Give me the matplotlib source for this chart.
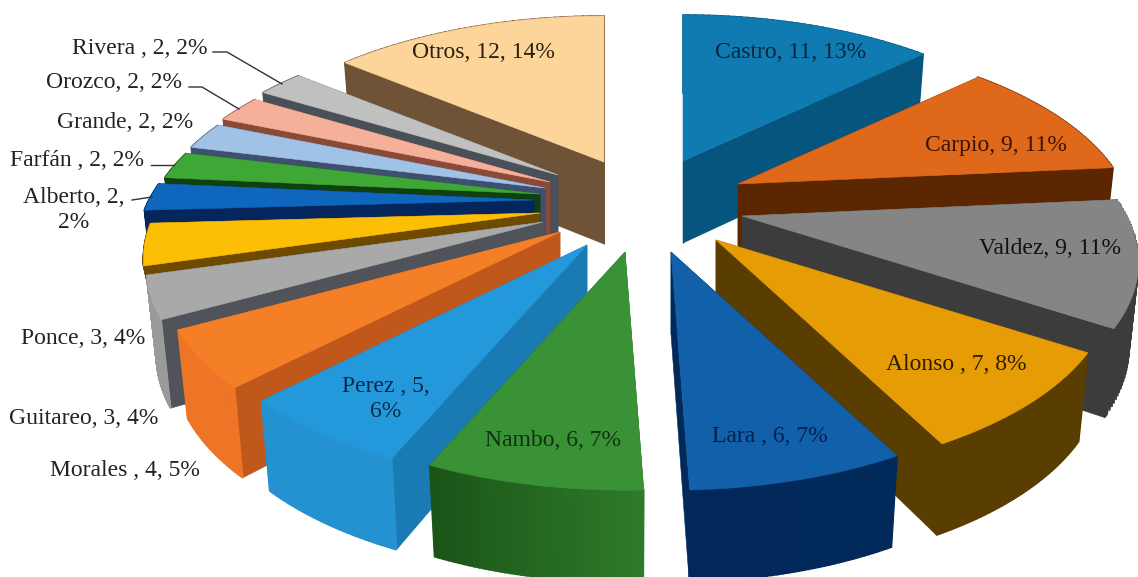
"""Exploded 3D pie of surnames, drawn as projected slices on a pixel-sized axes."""
import matplotlib
matplotlib.use("Agg")
import matplotlib.pyplot as plt
import numpy as np

names = ["Castro", "Carpio", "Valdez", "Alonso ", "Lara ", "Nambo", "Perez ", "Morales ",
         "Guitareo", "Ponce", "Alberto", "Farfán ", "Grande", "Orozco", "Rivera ", "Otros"]
values = [11, 9, 9, 7, 6, 6, 5, 4, 3, 3, 2, 2, 2, 2, 2, 12]
percents = [13, 11, 11, 8, 7, 7, 6, 5, 4, 4, 2, 2, 2, 2, 2, 14]

# layout of each slice: where its tip lands after the explosion
tip_x = [683, 738, 742, 716, 671, 625, 587, 560, 543, 540, 534, 540, 545, 550, 558, 604]
tip_y = [161, 184, 216, 240, 252, 252, 245, 232, 222, 213, 200, 194, 188, 182, 175, 162]
wall_scale = [1, 1, 1, 1, 1, 1, 1, 1, 1, 0.5, 1, 1, 1, 1, 1, 1]

top_colors = ["#0f7bb0", "#e0681a", "#858585", "#e69c05", "#1260aa", "#3a9236", "#2398da", "#f57f27",
              "#a9a9a9", "#fdbf05", "#0f66bd", "#3fa736", "#a0c2e6", "#f6b09a", "#c0c0c0", "#fdd59a"]
side_colors = ["#05557f", "#5c2600", "#3c3c3c", "#5a3d00", "#012a5a", "#1f6420", "#1a7ab3", "#c0581c",
               "#50545a", "#6d4a00", "#04265c", "#10400f", "#3f4f70", "#8a4a38", "#4a5058", "#6f5337"]
arc_left = ["#05557f", "#5c2600", "#3c3c3c", "#5a3d00", "#02285a", "#1b5418", "#2491d0", "#ee7426",
            "#9a9a9a", "#6d4a00", "#04265c", "#10400f", "#3f4f70", "#8a4a38", "#4a5058", "#6f5337"]
arc_right = ["#05557f", "#5c2600", "#3c3c3c", "#5a3d00", "#012a5a", "#2d7a2a", "#2491d0", "#ee7426",
             "#9a9a9a", "#6d4a00", "#04265c", "#10400f", "#3f4f70", "#8a4a38", "#4a5058", "#6f5337"]

label_x = [791, 996, 1050, 956, 770, 553, 386, 125, 84, 83, 74, 77, 125, 114, 140, 483]
label_y = [52, 145, 248, 364, 436, 440, 399, 470, 418, 339, 210, 161, 122, 83, 49, 53]
label_colors = ["#07273f", "#3a1400", "#111111", "#2e1b00", "#04204a", "#10300f", "#0b2a4a", "#222222",
                "#222222", "#222222", "#222222", "#222222", "#222222", "#222222", "#222222", "#2a2010"]
wrapped = ["Perez ", "Alberto"]

leaders = [([213, 227, 282], [52, 52, 84]),
           ([189, 202, 239], [87, 87, 109]),
           ([151, 174], [165, 165]),
           ([132, 152], [200, 197])]

RX, RY = 385.0, 181.0
PERSP = 0.24
WALL_TAPER = 0.975


def project(theta):
    """Offset from the slice tip for a rim angle (clockwise from the top)."""
    s = 1.0 / (1.0 + PERSP * np.cos(theta))
    return RX * np.sin(theta) * s, -RY * np.cos(theta) * s


def wall_depth(theta):
    return 85.0 - 7.0 * np.cos(theta)


def mix(c1, c2, f):
    a = np.array(matplotlib.colors.to_rgb(c1))
    b = np.array(matplotlib.colors.to_rgb(c2))
    return a + (b - a) * f


def draw_slice(ax, i, start, stop):
    tx, ty = tip_x[i], tip_y[i]
    theta = np.linspace(start, stop, 40)
    dx, dy = project(theta)
    rim_x, rim_y = tx + dx, ty + dy
    low_x, low_y = tx + dx * WALL_TAPER, ty + dy + wall_depth(theta) * wall_scale[i]
    tip_low = ty + 82.0 * wall_scale[i]
    back_facing = np.cos(0.5 * (start + stop)) > 0
    z = z_order[i]

    def radial(k):
        ax.fill([tx, rim_x[k], low_x[k], tx], [ty, rim_y[k], low_y[k], tip_low],
                color=side_colors[i], lw=0.4, zorder=z)

    def arc():
        order = np.argsort(rim_x)
        for j in range(len(order) - 1):
            a, b = order[j], order[j + 1]
            ax.fill([rim_x[a], rim_x[b], low_x[b], low_x[a]],
                    [rim_y[a], rim_y[b], low_y[b], low_y[a]],
                    color=mix(arc_left[i], arc_right[i], j / (len(order) - 2)),
                    lw=1.2, zorder=z)

    if back_facing:
        arc()
    radial(-1 if dx[-1] < dx[0] else 0)
    radial(0 if dx[-1] < dx[0] else -1)
    if not back_facing:
        arc()
    ax.fill(np.r_[tx, rim_x], np.r_[ty, rim_y], color=top_colors[i], lw=0.4, zorder=z + 0.5)


def main():
    fig = plt.figure(figsize=(11.38, 5.77), dpi=100)
    ax = fig.add_axes([0, 0, 1, 1])
    ax.set_xlim(0, 1138)
    ax.set_ylim(577, 0)
    ax.axis("off")

    edges = np.r_[0, np.cumsum(values)] / np.sum(values) * 2 * np.pi
    for i in range(len(values)):
        draw_slice(ax, i, edges[i], edges[i + 1])

    for xs, ys in leaders:
        ax.plot(xs, ys, color="#333333", lw=1.0, zorder=60)

    for i, name in enumerate(names):
        sep = ",\n" if name in wrapped else ", "
        txt = f"{name}, {values[i]}{sep}{percents[i]}%"
        ax.text(label_x[i], label_y[i], txt, ha="center", va="center", ma="center",
                family="Liberation Serif", fontsize=17, color=label_colors[i],
                linespacing=1.3, zorder=70)

    fig.savefig("out.png", dpi=100)


# back slices first, so the nearer ones paint over their walls
z_order = {i: 2 * rank for rank, i in enumerate(np.argsort(tip_y, kind="stable"))}

if __name__ == "__main__":
    main()
